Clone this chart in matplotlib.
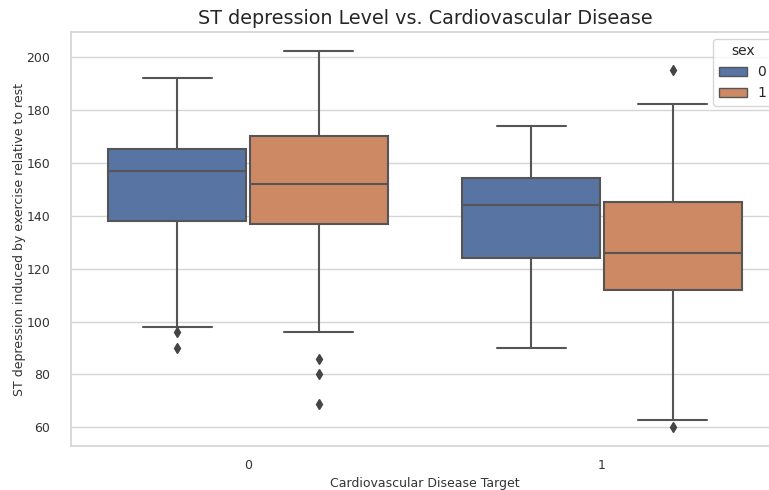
import numpy as np
import matplotlib
matplotlib.use("Agg")
import matplotlib.pyplot as plt
import seaborn as sns
from matplotlib.patches import Patch

sns.set_theme(style="whitegrid")
plt.rcParams["font.family"] = ["DejaVu Sans"]

# box summaries per target (0, 1) and sex (0, 1)
targets = ["0", "1"]
sexes = ["0", "1"]
q1 = [[138, 137], [124, 112]]
med = [[157, 152], [144, 126]]
q3 = [[165, 170], [154, 145]]
whislo = [[98, 96], [90, 63]]
whishi = [[192, 202], [174, 182]]
fliers = [[[96, 90], [86, 80, 69]], [[], [195, 60]]]

colors = ["#5874a3", "#cc8963"]
line_c = "#555555"

fig = plt.figure(figsize=(7.69, 4.90), dpi=100)
ax = fig.add_axes([71 / 769, 1 - 446 / 490, 708 / 769, 414 / 490])

width = 0.39
for t in range(len(targets)):
    for s in range(len(sexes)):
        pos = t + (s - 0.5) * 0.4
        stats = [dict(q1=q1[t][s], med=med[t][s], q3=q3[t][s],
                      whislo=whislo[t][s], whishi=whishi[t][s],
                      fliers=fliers[t][s])]
        ax.bxp(stats, positions=[pos], widths=width, patch_artist=True,
               boxprops=dict(facecolor=colors[s], edgecolor=line_c, linewidth=1.5),
               medianprops=dict(color=line_c, linewidth=1.5),
               whiskerprops=dict(color=line_c, linewidth=1.5),
               capprops=dict(color=line_c, linewidth=1.5),
               flierprops=dict(marker="d", markerfacecolor="#444444",
                               markeredgecolor="#444444", markersize=5),
               capwidths=width * 0.5, manage_ticks=False, zorder=2)

ax.set_xlim(-0.5, 1.5)
ax.set_ylim(53.0, 209.3)
ax.set_xticks(range(len(targets)))
ax.set_xticklabels(targets)
ax.set_yticks(np.arange(60, 201, 20))
ax.tick_params(axis="both", labelsize=9, colors="#333333")
ax.tick_params(axis="x", pad=3)
ax.tick_params(axis="y", pad=9)
ax.grid(axis="x", visible=False)
ax.grid(axis="y", color="#d5d5d5", linewidth=1)
ax.set_axisbelow(True)
for sp in ax.spines.values():
    sp.set_color("#d5d5d5")
ax.spines["right"].set_visible(False)

ax.set_xlabel("Cardiovascular Disease Target", fontsize=9, color="#333333",
              labelpad=4)
ax.set_ylabel("ST depression induced by exercise relative to rest", fontsize=9,
              color="#333333", labelpad=0)
ax.set_title("ST depression Level vs. Cardiovascular Disease", fontsize=13.8,
             color="#262626", pad=6)

handles = [Patch(facecolor=colors[i], edgecolor=line_c, label=sexes[i])
           for i in range(len(sexes))]
ax.legend(handles=handles, title="sex", loc="upper right", fontsize=10,
          title_fontsize=10)

fig.savefig("out.png", dpi=100)
